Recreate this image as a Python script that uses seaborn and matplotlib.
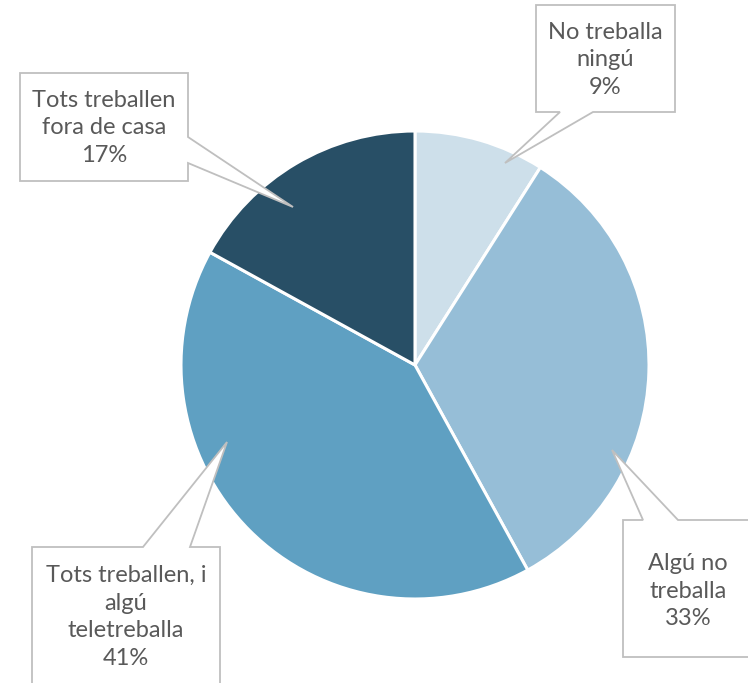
import matplotlib
matplotlib.use("Agg")
import matplotlib.pyplot as plt
import seaborn as sns
from matplotlib.patches import Polygon

sns.set_theme(style="white")
plt.rcParams['font.family'] = ['Lato', 'DejaVu Sans']

# dades
categories = ['No treballa\nningú', 'Algú no\ntreballa', 'Tots treballen, i\nalgú\nteletreballa',
              'Tots treballen\nfora de casa']
percentatges = [9, 33, 41, 17]
colors = ['#cddfea', '#96bed7', '#5fa0c2', '#284f66']

W, H = 748, 683
fig = plt.figure(figsize=(W / 100, H / 100), dpi=100)
ax = fig.add_axes([0, 0, 1, 1])

ax.pie(percentatges, colors=colors, startangle=90, counterclock=False,
       center=(415, H - 365), radius=234,
       wedgeprops=dict(edgecolor='white', linewidth=2.2))

ax.set_xlim(0, W)
ax.set_ylim(0, H)
ax.set_aspect('equal')
ax.axis('off')

# caixes amb fletxa (coordenades en píxels, y cap avall)
callouts = [
    ([(536, 5), (675, 5), (675, 112), (593, 112), (505, 163), (560, 112), (536, 112)], (605, 60)),
    ([(623, 520), (643, 520), (612, 450), (678, 520), (760, 520), (760, 657), (623, 657)], (688, 591)),
    ([(32, 547), (143, 547), (227, 442), (190, 547), (220, 547), (220, 700), (32, 700)], (126, 617)),
    ([(20, 73), (188, 73), (188, 137), (293, 207), (188, 163), (188, 181), (20, 181)], (104, 128)),
]

for (verts, (tx, ty)), cat, pct in zip(callouts, categories, percentatges):
    pts = [(x, H - y) for x, y in verts]
    ax.add_patch(Polygon(pts, closed=True, facecolor='white', edgecolor='#bfbfbf',
                         linewidth=1.3, zorder=3, clip_on=False))
    ax.text(tx, H - ty, f'{cat}\n{pct}%', ha='center', va='center', fontsize=17,
            color='#595959', linespacing=1.38, zorder=4)

fig.savefig('out.png', dpi=100)
